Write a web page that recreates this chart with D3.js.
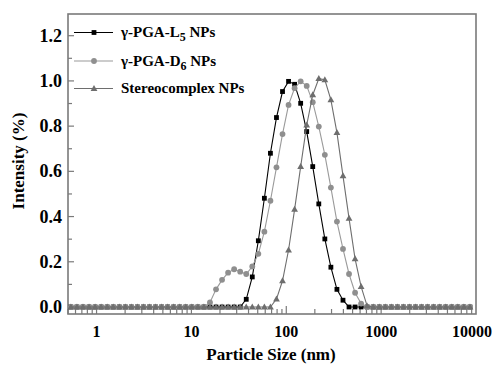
<!DOCTYPE html>
<html><head><meta charset="utf-8">
<script src="https://cdn.jsdelivr.net/npm/d3@7"></script>
<style>body{margin:0;background:#fff}svg{display:block}text{font-family:"Liberation Serif","Times New Roman",serif;font-weight:bold}</style>
</head><body>
<svg id="c" width="500" height="365"></svg>
<script>
const sizes = [0.5365,0.6213,0.7195,0.8332,0.9649,1.117,1.294,1.499,1.736,2.010,2.328,2.696,3.122,3.615,4.187,4.849,5.615,6.503,7.531,8.721,10.10,11.70,13.54,15.69,18.17,21.04,24.36,28.21,32.67,37.84,43.82,50.75,58.77,68.06,78.82,91.28,105.7,122.4,141.8,164.2,190.1,220.2,255.0,295.3,342.0,396.1,458.7,531.2,615.1,712.4,825.0,955.4,1106,1281,1484,1718,1990,2305,2669,3091,3580,4145,4801,5560,6439,7456,8635];
const L5 = [0,0,0,0,0,0,0,0,0,0,0,0,0,0,0,0,0,0,0,0,0,0,0,0,0,0,0,0,0,0.034,0.133,0.293,0.481,0.68,0.838,0.953,0.998,0.985,0.901,0.776,0.621,0.456,0.301,0.176,0.078,0.03,0,0,0,0,0,0,0,0,0,0,0,0,0,0,0,0,0,0,0,0,0];
const D6 = [0,0,0,0,0,0,0,0,0,0,0,0,0,0,0,0,0,0,0,0,0,0,0,0.02,0.078,0.12,0.152,0.167,0.156,0.146,0.179,0.235,0.333,0.47,0.618,0.765,0.894,0.968,0.998,0.978,0.906,0.798,0.673,0.528,0.378,0.257,0.146,0.063,0.015,0,0,0,0,0,0,0,0,0,0,0,0,0,0,0,0,0,0];
const SC = [0,0,0,0,0,0,0,0,0,0,0,0,0,0,0,0,0,0,0,0,0,0,0,0,0,0,0,0,0,0,0,0,0,0,0.035,0.116,0.252,0.432,0.621,0.805,0.938,1.01,1.005,0.916,0.771,0.58,0.392,0.213,0.09,0.004,0,0,0,0,0,0,0,0,0,0,0,0,0,0,0,0,0];
const xTicks = [1,10,100,1000,10000];
const yTicks = [0,0.2,0.4,0.6,0.8,1.0,1.2];
const seriesNames = ["γ-PGA-L|5| NPs","γ-PGA-D|6| NPs","Stereocomplex NPs"];

const svg = d3.select("#c");
const L=68,R=476,T=14,B=314;
const x = d3.scaleLog().domain([0.5,10000]).range([L,R]);
const y = d3.scaleLinear().domain([-0.031,1.296]).range([B,T]);
const frameCol="#7a7a7a";

const xMinor=[];
for(let d=0.1; d<10000; d*=10){for(let k=1;k<10;k++){const v=+(d*k).toPrecision(3); if(v>=0.5 && v<=10000) xMinor.push(v);}}
const g = svg.append("g");
g.selectAll(".xm").data(xMinor).enter().append("line")
 .attr("x1",d=>x(d)).attr("x2",d=>x(d)).attr("y1",B).attr("y2",d=>xTicks.includes(d)?B-8:B-5)
 .attr("stroke",frameCol).attr("stroke-width",1.2);
const yMinor=d3.range(0,13).map(i=>i/10);
g.selectAll(".ym").data(yMinor).enter().append("line")
 .attr("x1",L).attr("x2",(d,i)=>i%2===0?L+6:L+4).attr("y1",d=>y(d)).attr("y2",d=>y(d))
 .attr("stroke",frameCol).attr("stroke-width",1.2);

svg.append("rect").attr("x",L).attr("y",T).attr("width",R-L).attr("height",B-T)
 .attr("fill","none").attr("stroke",frameCol).attr("stroke-width",1.6);

svg.selectAll(".xl").data(xTicks).enter().append("text")
 .attr("x",d=>d===10000?x(d)-4:x(d)).attr("y",337).attr("text-anchor","middle").attr("font-size",16).text(d=>d);
svg.selectAll(".yl").data(yTicks).enter().append("text")
 .attr("x",62).attr("y",d=>y(d)+6).attr("text-anchor","end").attr("font-size",18).text(d=>d.toFixed(1));

svg.append("text").attr("x",271).attr("y",360).attr("text-anchor","middle").attr("font-size",17).text("Particle Size (nm)");
svg.append("text").attr("transform","translate(24,161) rotate(-90)").attr("text-anchor","middle").attr("font-size",17).text("Intensity (%)");

const styles=[
 {c:"#000",line:"#000",m:"square"},
 {c:"#8f8f8f",line:"#9a9a9a",m:"circle"},
 {c:"#6e6e6e",line:"#6e6e6e",m:"tri"}
];
const data=[L5,D6,SC];
function marker(sel,m,c){
 if(m==="square") sel.append("rect").attr("x",-2.4).attr("y",-2.4).attr("width",4.8).attr("height",4.8).attr("fill",c);
 else if(m==="circle") sel.append("circle").attr("r",2.9).attr("fill",c);
 else sel.append("path").attr("d","M0,-3.6L3.4,2.4L-3.4,2.4Z").attr("fill",c);
}
svg.append("clipPath").attr("id","cp").append("rect").attr("x",L).attr("y",T).attr("width",R-L).attr("height",B-T);
const line=d3.line().x(d=>x(d[0])).y(d=>y(d[1]));
data.forEach((vals,si)=>{
 const pts=sizes.map((s,i)=>[s,vals[i]]);
 const sg=svg.append("g").attr("clip-path","url(#cp)");
 sg.append("path").attr("d",line(pts)).attr("fill","none").attr("stroke",styles[si].line).attr("stroke-width",1.1);
 pts.forEach(p=>{const mg=sg.append("g").attr("transform",`translate(${x(p[0])},${y(p[1])})`); marker(mg,styles[si].m,styles[si].c);});
});

const ly=[32.5,61,88.5];
seriesNames.forEach((n,i)=>{
 svg.append("line").attr("x1",74).attr("x2",113).attr("y1",ly[i]).attr("y2",ly[i]).attr("stroke",styles[i].line).attr("stroke-width",1.1);
 const mg=svg.append("g").attr("transform",`translate(94,${ly[i]})`); marker(mg,styles[i].m,styles[i].c);
 const t=svg.append("text").attr("x",121).attr("y",ly[i]+4.5).attr("font-size",15);
 const parts=n.split("|");
 t.append("tspan").text(parts[0]);
 if(parts.length>1){
  t.append("tspan").attr("font-size",12).attr("dy",4).text(parts[1]);
  t.append("tspan").attr("dy",-4).text(parts[2]);
 }
});
</script>
</body></html>
